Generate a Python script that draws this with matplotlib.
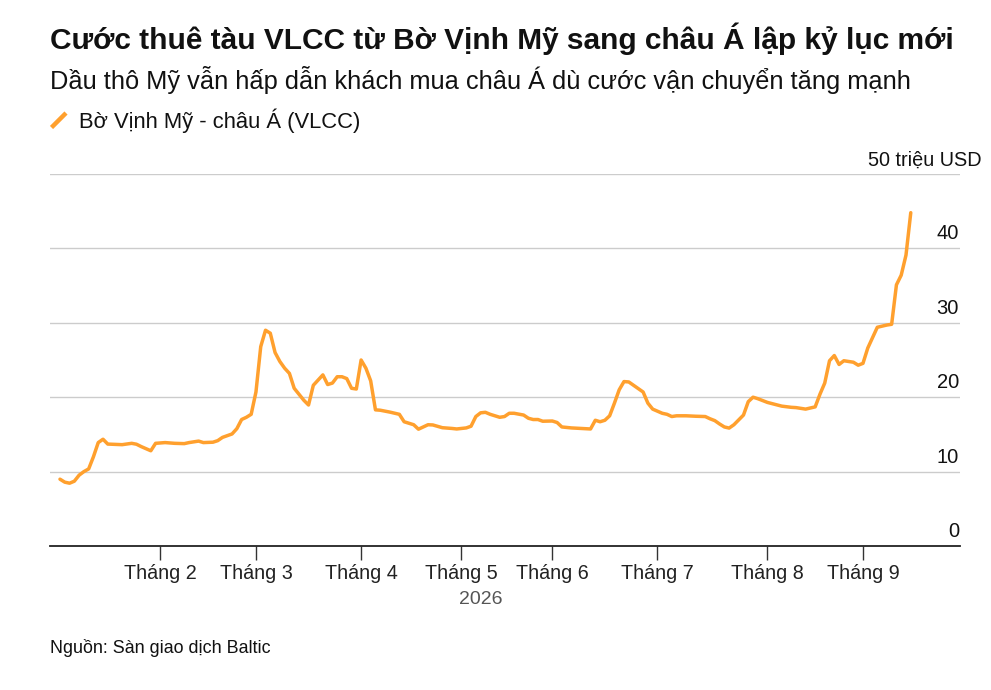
import matplotlib
matplotlib.use("Agg")
import matplotlib.pyplot as plt
import matplotlib.transforms as mtransforms
from matplotlib.lines import Line2D
import numpy as np

plt.rcParams['font.family'] = ['Liberation Sans', 'DejaVu Sans']

# ---- data (x = trading-day index from 2 Jan 2026, y = million USD) ----
day_index = [0, 1, 2, 3, 4, 5, 6, 7, 8, 9, 10, 13, 15, 16, 17, 19, 20, 22, 24, 26,
             27, 29, 30, 32, 33, 34, 36, 37, 38, 39, 40, 41, 42, 43, 44, 45, 46, 47,
             48, 49, 50, 51, 52, 53, 54, 55, 56, 57, 58, 59, 60, 61, 62, 63, 64, 65,
             66, 67, 69, 71, 72, 74, 75, 77, 78, 80, 82, 83, 85, 86, 87, 88, 89, 90,
             92, 93, 94, 95, 97, 98, 99, 100, 101, 103, 104, 105, 107, 109, 111, 112,
             113, 114, 115, 116, 117, 118, 119, 120, 122, 123, 124, 126, 127, 128,
             129, 131, 133, 135, 136, 137, 138, 139, 140, 141, 143, 144, 145, 146,
             148, 151, 153, 154, 156, 158, 159, 160, 161, 162, 163, 164, 166, 167,
             168, 169, 170, 171, 173, 174, 175, 176, 177, 178]
rate_musd = [8.98, 8.58, 8.44, 8.71, 9.52, 10.0, 10.36, 12.0, 13.9, 14.35, 13.7, 13.62,
             13.8, 13.68, 13.36, 12.8, 13.8, 13.9, 13.8, 13.76, 13.9, 14.1, 13.9, 13.95,
             14.16, 14.6, 15.06, 15.77, 17.0, 17.3, 17.7, 20.7, 26.8, 29.0, 28.6, 26.0,
             24.8, 23.9, 23.2, 21.2, 20.4, 19.6, 18.95, 21.6, 22.3, 23.0, 21.7, 21.9,
             22.75, 22.75, 22.5, 21.2, 21.1, 25.0, 23.9, 22.2, 18.3, 18.25, 18.0, 17.7,
             16.7, 16.3, 15.7, 16.3, 16.27, 15.9, 15.8, 15.73, 15.87, 16.1, 17.4, 17.9,
             17.97, 17.7, 17.3, 17.4, 17.84, 17.84, 17.6, 17.17, 17.0, 17.0, 16.77, 16.8,
             16.6, 16.0, 15.87, 15.8, 15.73, 16.9, 16.7, 16.9, 17.5, 19.2, 21.0, 22.1,
             22.05, 21.6, 20.7, 19.2, 18.4, 17.84, 17.7, 17.4, 17.5, 17.5, 17.44, 17.4,
             17.1, 16.85, 16.4, 16.0, 15.85, 16.3, 17.6, 19.4, 20.0, 19.8, 19.3, 18.8,
             18.64, 18.6, 18.4, 18.7, 20.4, 21.9, 24.9, 25.6, 24.4, 24.9, 24.7, 24.3,
             24.55, 26.6, 28.0, 29.4, 29.7, 29.8, 35.1, 36.4, 39.1, 44.8]

# trading days per month (Jan..Aug) -> month-start positions
month_trading_days = [21, 20, 22, 21, 19, 22, 23, 20]
month_labels = ["Tháng 2", "Tháng 3", "Tháng 4", "Tháng 5", "Tháng 6",
                "Tháng 7", "Tháng 8", "Tháng 9"]
y_ticks = [0, 10, 20, 30, 40, 50]
y_tick_labels = ["0", "10", "20", "30", "40", "50 triệu USD"]

title = "Cước thuê tàu VLCC từ Bờ Vịnh Mỹ sang châu Á lập kỷ lục mới"
subtitle = "Dầu thô Mỹ vẫn hấp dẫn khách mua châu Á dù cước vận chuyển tăng mạnh"
series_name = "Bờ Vịnh Mỹ - châu Á (VLCC)"
year_label = "2026"
source = "Nguồn: Sàn giao dịch Baltic"

LINE = '#FFA02E'
W, H = 991, 690

def fx(x):
    return x / W

def fy(y):
    return 1 - y / H

fig = plt.figure(figsize=(W / 100, H / 100), dpi=100)
ax = fig.add_axes([fx(50), fy(546), fx(960) - fx(50), fy(174) - fy(546)])

ax.plot(day_index, rate_musd, color=LINE, lw=2.5, solid_joinstyle='round',
        solid_capstyle='round', zorder=3, clip_on=False)

ax.set_xlim(-2.09, 188.3)
ax.set_ylim(0, 50)

for v in y_ticks[1:]:
    ax.axhline(v, color='#cccccc', lw=1.0, zorder=1)

for s in ['top', 'right', 'left']:
    ax.spines[s].set_visible(False)
ax.spines['bottom'].set_color('#222222')
ax.spines['bottom'].set_linewidth(1.3)
ax.spines['bottom'].set_zorder(4)

tick_pos = np.cumsum(month_trading_days)
ax.set_xticks(tick_pos)
ax.set_xticklabels(month_labels, fontsize=14.2, color='#222222')
ax.tick_params(axis='x', length=10, width=1, color='#333333', pad=3)
ax.set_yticks([])

# y labels above gridlines, right aligned
trans = mtransforms.offset_copy(ax.get_yaxis_transform(), fig=fig, x=-1, y=9, units='dots')
for v, lab in zip(y_ticks, y_tick_labels):
    if v == 50:
        t2 = mtransforms.offset_copy(ax.get_yaxis_transform(), fig=fig, x=22, y=8, units='dots')
        ax.text(1.0, v, lab, transform=t2, ha='right', va='baseline', fontsize=14.3, color='#111111')
    else:
        ax.text(1.0, v, lab, transform=trans, ha='right', va='baseline', fontsize=14.5, color='#111111')

# titles
fig.text(fx(50), fy(49), title, fontsize=21.5, fontweight='bold', ha='left', va='baseline', color='#111111')
fig.text(fx(50), fy(89), subtitle, fontsize=18.3, ha='left', va='baseline', color='#111111')

# legend
fig.add_artist(Line2D([fx(51.5), fx(66)], [fy(127.5), fy(113)], color=LINE, lw=3.2,
                      solid_capstyle='butt', transform=fig.transFigure))
fig.text(fx(79), fy(128), series_name, fontsize=15.8, ha='left', va='baseline', color='#111111')

fig.text(fx(481), fy(599), year_label, fontsize=14, ha='center', va='center', color='#555555')
fig.text(fx(50), fy(648), source, fontsize=12.9, ha='left', va='center', color='#111111')

fig.savefig('out.png', dpi=100, facecolor='white')
